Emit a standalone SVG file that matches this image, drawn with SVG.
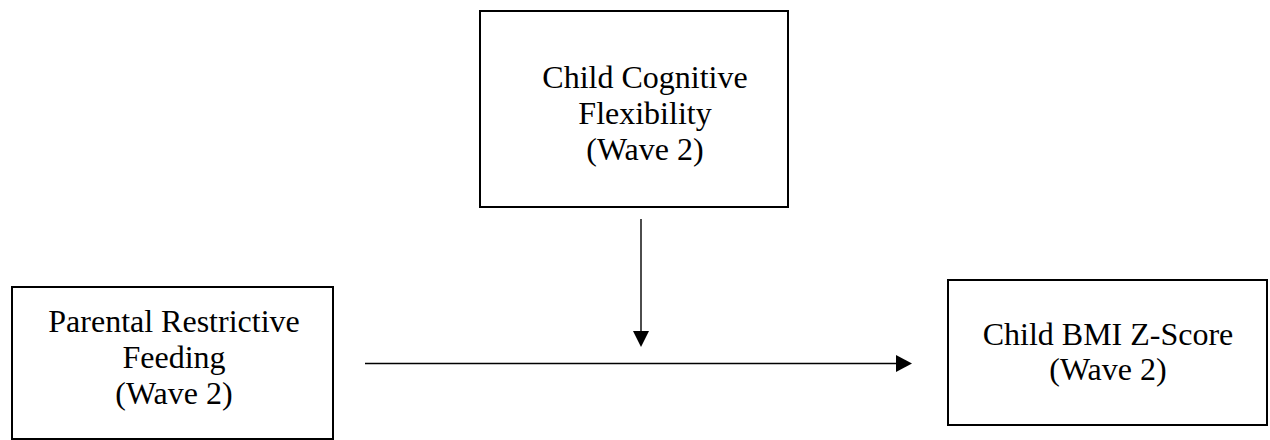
<svg xmlns="http://www.w3.org/2000/svg" width="1270" height="440" viewBox="0 0 1270 440">
<style>
.box{fill:#fff;stroke:#000;stroke-width:2}
.t{font-family:"Liberation Serif","Times New Roman",serif;font-size:32px;fill:#000;text-anchor:middle}
.c{stroke:#000;stroke-width:1.4;fill:none}
.h{fill:#000;stroke:none}
</style>
<rect width="1270" height="440" fill="#fff"/>
<g id="node-flex">
<rect class="box" x="480" y="11" width="308" height="196"/>
<text class="t" x="645" y="88">Child Cognitive</text>
<text class="t" x="645" y="124">Flexibility</text>
<text class="t" x="645" y="160">(Wave 2)</text>
</g>
<g id="node-restrict">
<rect class="box" x="12" y="287" width="321" height="152"/>
<text class="t" x="174" y="332">Parental Restrictive</text>
<text class="t" x="174" y="368">Feeding</text>
<text class="t" x="174" y="404">(Wave 2)</text>
</g>
<g id="node-bmi">
<rect class="box" x="948" y="280" width="319" height="145"/>
<text class="t" x="1108" y="345">Child BMI Z-Score</text>
<text class="t" x="1108" y="380">(Wave 2)</text>
</g>
<g id="connectors">
<line class="c" x1="365" y1="363.5" x2="898" y2="363.5"/>
<polygon class="h" points="896,355 912,363.5 896,372"/>
<line class="c" x1="641" y1="219" x2="641" y2="333"/>
<polygon class="h" points="633,331 649,331 641,347"/>
</g>
</svg>
